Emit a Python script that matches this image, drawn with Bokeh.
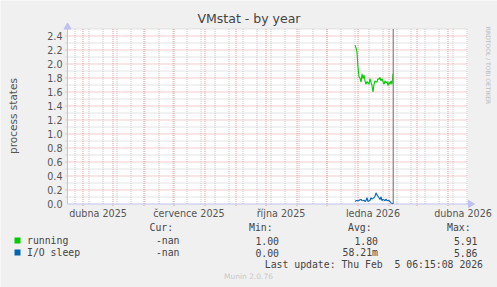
from datetime import datetime, timedelta
from math import pi
from bokeh.plotting import figure
from bokeh.models import ColumnDataSource, Range1d
from bokeh.core.properties import value
from bokeh.embed import file_html
from bokeh.resources import INLINE

# ---------------- data ----------------
series_start = "2025-12-29"   # first daily sample
running = [2.27, 2.23, 2.17, 1.95, 1.82, 1.80, 1.74, 1.86, 1.79, 1.84,
           1.76, 1.71, 1.75, 1.73, 1.71, 1.79, 1.74, 1.69, 1.60, 1.71,
           1.76, 1.74, 1.75, 1.79, 1.78, 1.81, 1.76, 1.79, 1.75, 1.71,
           1.76, 1.73, 1.75, 1.69, 1.74, 1.71, 1.76, 1.71, 1.86]
io_sleep = [0.040, 0.045, 0.050, 0.045, 0.050, 0.060, 0.065, 0.050, 0.045, 0.055,
            0.035, 0.050, 0.090, 0.035, 0.045, 0.050, 0.090, 0.070, 0.080, 0.090,
            0.110, 0.160, 0.130, 0.110, 0.090, 0.065, 0.100, 0.050, 0.065, 0.060,
            0.045, 0.070, 0.045, 0.050, 0.050, 0.035, 0.015, 0.010, 0.005]
series_names = ["running", "I/O sleep"]
series_colors = ["#00CC00", "#0066B3"]
cur_values = ["-nan", "-nan"]
min_values = ["1.00", "0.00"]
avg_values = ["1.80", "58.21m"]
max_values = ["5.91", "5.86"]
legend_headers = ["Cur:", "Min:", "Avg:", "Max:"]

x_tick_dates = ["2025-04-16", "2025-07-16", "2025-10-16", "2026-01-16", "2026-04-16"]
x_tick_labels = ["dubna 2025", "července 2025", "října 2025", "ledna 2026", "dubna 2026"]
y_ticks = [0.0, 0.2, 0.4, 0.6, 0.8, 1.0, 1.2, 1.4, 1.6, 1.8, 2.0, 2.2, 2.4]
y_tick_labels = ["0.0", "0.2", "0.4", "0.6", "0.8", "1.0", "1.2", "1.4",
                 "1.6", "1.8", "2.0", "2.2", "2.4"]

plot_start = datetime(2025, 3, 16, 12, 0)
plot_days = 400
y_max = 2.5
now_time = datetime(2026, 2, 5, 6, 15, 8)
title_text = "VMstat - by year"
y_label = "process states"
last_update = "Last update: Thu Feb \u00a05 06:15:08 2026"
footer = "Munin 2.0.76"
watermark = "RRDTOOL / TOBI OETIKER"

# ---------------- geometry ----------------
W, H = 497, 287
PL, PB = 67.0, 203.5          # canvas px of plot-area left edge and zero line
PX_PER_UNIT = 70.0            # vertical px per y unit
DAY = 86400000.0              # one px per day horizontally

def ms(d):
    return (d - datetime(1970, 1, 1)).total_seconds() * 1000.0

plot_end = plot_start + timedelta(days=plot_days)
xs0, xs1 = ms(plot_start), ms(plot_end)
# canvas <-> data helpers for layout only
def cx(px):
    return xs0 + (px - PL) * DAY
def cy(py):
    return (PB - py) / PX_PER_UNIT

p = figure(width=W, height=H, output_backend="svg", toolbar_location=None,
           x_axis_location=None, y_axis_location=None,
           x_range=Range1d(cx(0), cx(W)), y_range=Range1d(cy(H), cy(0)),
           min_border=0, min_border_left=0, min_border_right=0,
           min_border_top=0, min_border_bottom=0)
p.title.visible = False
p.background_fill_color = "#F0F0F0"
p.border_fill_color = "#F0F0F0"
p.outline_line_color = None
p.grid.visible = False

# canvas (white plot area)
p.quad(left=[xs0], right=[xs1], bottom=[0], top=[y_max],
       fill_color="#FFFFFF", line_color=None)

# grid: minor grey (every 2 weeks / 0.1), major red (months / 0.2)
minor_x = []
d = datetime(2025, 3, 24)
while d < plot_end:
    if d > plot_start:
        minor_x.append(ms(d))
    d += timedelta(days=14)
major_x = []
yy, mm = 2025, 4
while datetime(yy, mm, 1) < plot_end:
    major_x.append(ms(datetime(yy, mm, 1)))
    mm += 1
    if mm > 12:
        mm, yy = 1, yy + 1
minor_y = [round(0.1 * k, 1) for k in range(1, 26) if k % 2 == 1]
major_y = [v for v in y_ticks if v > 0]

grey = "#C8C8C8"
red = "#E29A9A"
p.segment(x0=minor_x, x1=minor_x, y0=[0] * len(minor_x), y1=[y_max] * len(minor_x),
          line_color=grey, line_width=1, line_dash="1 1")
p.segment(x0=[cx(PL - 2)] * len(minor_y), x1=[xs1] * len(minor_y), y0=minor_y, y1=minor_y,
          line_color=grey, line_width=1, line_dash="1 1")
p.segment(x0=major_x, x1=major_x, y0=[cy(PB + 2)] * len(major_x), y1=[y_max] * len(major_x),
          line_color=red, line_width=1, line_dash="1 1")
p.segment(x0=[cx(PL - 2)] * len(major_y), x1=[xs1] * len(major_y), y0=major_y, y1=major_y,
          line_color=red, line_width=1, line_dash="1 1")

# axes lines and arrows
axis_col = "#C0C0F2"
p.segment(x0=[xs0, xs0], x1=[xs0, xs1 + 2 * DAY], y0=[0, 0], y1=[y_max, 0],
          line_color=axis_col, line_width=1)
p.scatter(x=[xs0], y=[cy(26.5)], marker="triangle", size=7,
          fill_color=axis_col, line_color=axis_col)
p.scatter(x=[xs1 + 3 * DAY], y=[0], marker="triangle", size=7, angle=-pi / 2,
          fill_color=axis_col, line_color=axis_col)

# series
t0 = datetime.fromisoformat(series_start)
xs = [ms(t0 + timedelta(days=i)) for i in range(len(running))]
src = ColumnDataSource(dict(x=xs, running=running, io=io_sleep))
p.line("x", "running", source=src, line_color=series_colors[0], line_width=1.1)
p.line("x", "io", source=src, line_color=series_colors[1], line_width=1.1)

# "now" rule
nx = ms(now_time)
p.segment(x0=[nx], x1=[nx], y0=[0], y1=[y_max], line_color="#8A8A8A", line_width=1.3)

# tick labels (from the tick arrays, placed through the scales)
text_col = "#555555"
xticks = [ms(datetime.fromisoformat(s)) for s in x_tick_dates]
p.text(x=xticks, y=[cy(213)] * len(xticks), text=x_tick_labels,
       text_font=value("DejaVu Sans"), text_font_size="9.6px",
       text_color=text_col, text_align="center", text_baseline="middle")
p.text(x=[cx(62)] * len(y_ticks), y=y_ticks, text=y_tick_labels,
       text_font=value("DejaVu Sans"), text_font_size="9.6px",
       text_color=text_col, text_align="right", text_baseline="middle")

def lab(px, py, text, size="9.8px", font="DejaVu Sans Mono", color="#444444",
        align="left", angle=0.0):
    p.text(x=[cx(px)], y=[cy(py)], text=[text], text_font=value(font),
           text_font_size=size, text_color=color, text_align=align,
           text_baseline="middle", angle=angle)

lab(248.5, 18, title_text, size="12.5px", font="DejaVu Sans", color="#444444",
    align="center")
lab(12, 115.5, y_label, size="10.5px", font="DejaVu Sans", color=text_col,
    align="center", angle=pi / 2)
lab(487.5, 65, watermark, size="6px", font="DejaVu Sans", color="#BBBBBB",
    align="center", angle=-pi / 2)

# legend
for hx, h in zip([149, 248.5, 347.5, 446.5], legend_headers):
    lab(hx, 227, h)
rows_y = [240, 252]
for i in range(2):
    ry = rows_y[i]
    p.quad(left=[cx(14)], right=[cx(20)], top=[cy(ry - 3)], bottom=[cy(ry + 3)],
           fill_color=series_colors[i], line_color=None)
    lab(26.5, ry, series_names[i])
    lab(179, ry, cur_values[i], align="right")
    lab(278.5, ry, min_values[i], align="right")
    lab(377.5, ry, avg_values[i], align="right")
    lab(477, ry, max_values[i], align="right")
lab(482.5, 263.5, last_update, align="right")
lab(248, 276, footer, size="7.5px", font="DejaVu Sans", color="#C8C8C8",
    align="center")

open("out.html", "w").write(file_html(p, INLINE))
